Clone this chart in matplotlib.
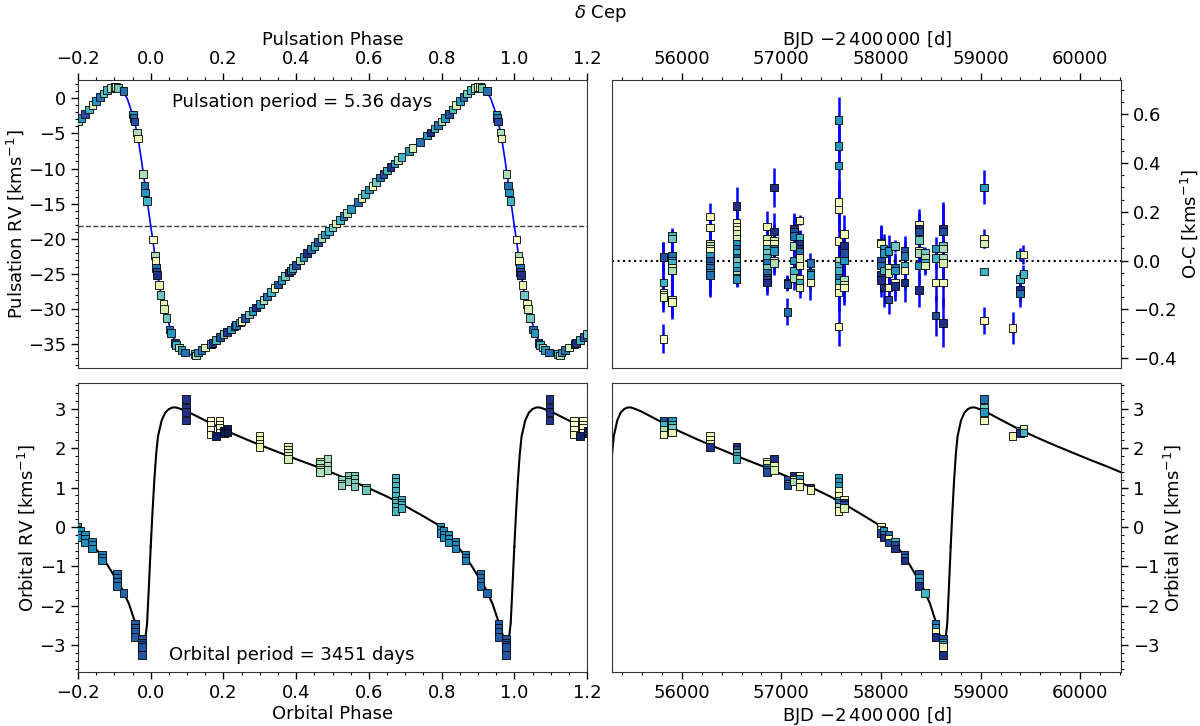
import numpy as np
import matplotlib
matplotlib.use("Agg")
from matplotlib import pyplot as plt
from matplotlib.ticker import AutoMinorLocator, MultipleLocator

# ---------------- pulsation (top left) ----------------
puls_phase = [
    0.951, 0.953, 0.955, 0.962, 0.965, 0.979, 0.983, 0.985, 0.989,
    0.006, 0.011, 0.013, 0.015, 0.016, 0.018, 0.022, 0.027, 0.035, 0.037,
    0.043, 0.052, 0.055, 0.066, 0.070, 0.078, 0.085, 0.095, 0.120, 0.125,
    0.130, 0.140, 0.150, 0.165, 0.170, 0.180, 0.190, 0.200, 0.210, 0.220,
    0.230, 0.235, 0.245, 0.250, 0.260, 0.270, 0.280, 0.290, 0.300, 0.310,
    0.320, 0.330, 0.340, 0.350, 0.360, 0.370, 0.380, 0.385, 0.390, 0.400,
    0.410, 0.420, 0.430, 0.440, 0.450, 0.460, 0.470, 0.480, 0.490, 0.500,
    0.510, 0.520, 0.530, 0.540, 0.550, 0.570, 0.580, 0.590, 0.600, 0.610,
    0.620, 0.630, 0.640, 0.650, 0.660, 0.670, 0.680, 0.690, 0.710, 0.720,
    0.740, 0.760, 0.770, 0.780, 0.790, 0.800, 0.810, 0.820, 0.830, 0.840,
    0.850, 0.860, 0.870, 0.880, 0.890, 0.900, 0.905, 0.910, 0.925,
]
puls_rv = [
    -2.3, -2.8, -3.3, -4.9, -5.7, -10.8, -12.4, -13.4, -14.6,
    -20.1, -22.4, -23.2, -24.2, -24.7, -25.2, -26.6, -28.0, -29.3, -30.0,
    -31.3, -32.9, -33.4, -34.8, -35.1, -35.5, -35.8, -36.2, -36.4, -36.6,
    -36.2, -35.8, -35.5, -35.0, -34.8, -34.4, -34.0, -33.6, -33.3, -32.9,
    -32.5, -32.3, -31.9, -31.7, -31.3, -30.8, -30.3, -29.8, -29.3, -28.7,
    -28.2, -27.6, -27.0, -26.5, -25.9, -25.3, -24.8, -24.5, -24.2, -23.7,
    -23.1, -22.6, -22.0, -21.5, -21.0, -20.5, -19.9, -19.4, -18.9, -18.4,
    -17.8, -17.3, -16.8, -16.3, -15.8, -14.8, -14.2, -13.6, -13.0, -12.5,
    -11.9, -11.3, -10.8, -10.3, -9.8, -9.3, -8.8, -8.4, -7.5, -7.1,
    -6.2, -5.3, -4.9, -4.3, -3.8, -3.3, -2.8, -2.2, -1.6, -1.0,
    -0.4, 0.2, 0.7, 1.2, 1.5, 1.6, 1.6, 1.5, 1.0,
]
puls_col = [
    0.6, 0.7, 0.8, 0.3, 0.1, 0.3, 0.7, 0.6, 0.5,
    0.05, 0.3, 0.1, 0.7, 0.8, 0.9, 0.15, 0.4, 0.1, 0.2,
    0.4, 0.7, 0.6, 0.9, 0.5, 0.3, 0.6, 0.7, 0.5, 0.3,
    0.6, 0.7, 0.2, 0.6, 0.9, 0.5, 0.8, 0.4, 0.9, 0.6,
    0.3, 0.7, 0.5, 0.1, 0.8, 0.4, 0.6, 0.9, 0.6, 0.3,
    0.7, 0.5, 0.1, 0.8, 0.6, 0.4, 0.9, 0.7, 0.5, 0.8,
    0.3, 0.6, 0.9, 0.7, 0.5, 0.8, 0.3, 0.6, 0.5, 0.4,
    0.2, 0.5, 0.7, 0.3, 0.6, 0.7, 0.2, 0.5, 0.6, 0.1,
    0.4, 0.7, 0.8, 0.5, 0.9, 0.6, 0.3, 0.5, 0.6, 0.2,
    0.7, 0.6, 0.9, 0.5, 0.7, 0.3, 0.6, 0.8, 0.5, 0.2,
    0.6, 0.7, 0.4, 0.5, 0.3, 0.1, 0.2, 0.4, 0.7,
]
puls_model_phase = [
    0.0, 0.005, 0.015, 0.025, 0.035, 0.045, 0.055, 0.065, 0.075, 0.085,
    0.095, 0.11, 0.125, 0.14, 0.16, 0.19, 0.22, 0.26, 0.30, 0.35, 0.40,
    0.45, 0.50, 0.55, 0.60, 0.65, 0.70, 0.75, 0.80, 0.84, 0.87, 0.89,
    0.90, 0.91, 0.92, 0.935, 0.945, 0.955, 0.965, 0.975, 0.985, 0.995, 1.0,
]
puls_model_rv = [
    -18.2, -19.9, -23.7, -27.1, -29.4, -31.3, -32.9, -34.3, -35.3, -35.9,
    -36.3, -36.5, -36.4, -36.0, -35.2, -34.1, -32.9, -31.2, -29.2, -26.4,
    -23.6, -21.0, -18.5, -15.8, -13.0, -10.3, -7.9, -5.7, -3.3, -1.1,
    0.6, 1.4, 1.6, 1.55, 1.2, 0.0, -1.5, -3.2, -5.6, -9.0, -12.7, -16.3,
    -18.2,
]
gamma_line = -18.2

# ---------------- O-C residuals (top right) ----------------
oc_bjd = (
    [55816] * 7 + [55900] * 9 + [56283] * 12 + [56551] * 16 + [56858] * 12
    + [56927] * 8 + [57061] * 3 + [57126] * 7 + [57184] * 10 + [57291] * 4
    + [57574] * 14 + [57628] * 7 + [58000] * 6 + [58027] * 4 + [58077] * 5
    + [58142] * 5 + [58237] * 5 + [58379] * 8 + [58440] * 4 + [58548] * 4
    + [58620] * 8 + [59034] * 5 + [59321] * 1 + [59398] * 4 + [59429] * 2
)
oc_val = [
    0.012, 0.015, -0.09, -0.13, -0.14, -0.15, -0.32,
    0.10, 0.09, 0.02, 0.0, -0.01, -0.03, -0.04, -0.16, -0.17,
    0.18, 0.135, 0.07, 0.06, 0.05, 0.04, 0.02, 0.0, -0.02, -0.03, -0.05, -0.06,
    0.225, 0.155, 0.14, 0.125, 0.11, 0.09, 0.07, 0.05, 0.03, 0.01, 0.0, -0.02,
    -0.04, -0.06, -0.07, -0.075,
    0.14, 0.09, 0.07, 0.05, 0.03, 0.01, -0.01, -0.03, -0.05, -0.07, -0.08, -0.09,
    0.30, 0.12, 0.08, 0.07, 0.05, 0.04, 0.0, -0.01,
    -0.09, -0.095, -0.21,
    0.13, 0.12, 0.10, 0.06, 0.0, -0.04, -0.07,
    0.165, 0.095, 0.07, 0.05, 0.035, 0.01, -0.02, -0.075, -0.09, -0.11,
    -0.01, -0.05, -0.06, -0.09,
    0.575, 0.47, 0.39, 0.24, 0.21, 0.08, 0.0, -0.02, -0.04, -0.07, -0.09,
    -0.11, -0.13, -0.27,
    0.11, 0.06, 0.03, 0.0, -0.08, -0.10, -0.11,
    0.075, 0.07, 0.0, -0.02, -0.06, -0.08,
    0.05, 0.03, -0.04, -0.11,
    0.04, -0.03, -0.05, -0.11, -0.16,
    0.06, -0.03, -0.04, -0.09, -0.105,
    0.04, 0.02, -0.02, -0.04, -0.09,
    0.145, 0.13, 0.12, 0.085, 0.04, 0.03, -0.02, -0.12,
    0.03, 0.01, -0.01, -0.02,
    0.05, 0.01, -0.09, -0.225,
    0.13, 0.12, 0.06, 0.05, 0.01, -0.01, -0.09, -0.255,
    0.30, 0.09, 0.07, -0.045, -0.245,
    -0.275,
    0.025, -0.075, -0.12, -0.135,
    0.025, -0.055,
]
oc_err = [
    0.065, 0.06, 0.07, 0.07, 0.06, 0.06, 0.06,
    0.035, 0.035, 0.07, 0.07, 0.07, 0.07, 0.07, 0.07, 0.07,
    0.055, 0.06, 0.06, 0.06, 0.06, 0.06, 0.07, 0.07, 0.08, 0.08, 0.09, 0.09,
    0.075, 0.07, 0.07, 0.07, 0.07, 0.07, 0.06, 0.06, 0.06, 0.05, 0.05, 0.05,
    0.04, 0.04, 0.035, 0.035,
    0.065, 0.065, 0.06, 0.06, 0.06, 0.06, 0.05, 0.05, 0.05, 0.05, 0.05, 0.05,
    0.08, 0.075, 0.07, 0.07, 0.06, 0.06, 0.05, 0.05,
    0.03, 0.03, 0.055,
    0.065, 0.065, 0.06, 0.06, 0.05, 0.05, 0.05,
    0.02, 0.03, 0.05, 0.05, 0.05, 0.05, 0.05, 0.045, 0.045, 0.045,
    0.04, 0.05, 0.06, 0.07,
    0.095, 0.09, 0.09, 0.09, 0.09, 0.09, 0.09, 0.09, 0.09, 0.08, 0.08,
    0.08, 0.08, 0.08,
    0.075, 0.07, 0.07, 0.07, 0.07, 0.07, 0.07,
    0.07, 0.07, 0.07, 0.07, 0.07, 0.07,
    0.06, 0.06, 0.08, 0.08,
    0.065, 0.06, 0.06, 0.06, 0.06,
    0.025, 0.06, 0.06, 0.06, 0.06,
    0.06, 0.06, 0.07, 0.08, 0.08,
    0.065, 0.065, 0.065, 0.07, 0.07, 0.07, 0.07, 0.07,
    0.025, 0.025, 0.04, 0.04,
    0.045, 0.045, 0.08, 0.085,
    0.11, 0.11, 0.1, 0.1, 0.1, 0.1, 0.1, 0.1,
    0.07, 0.04, 0.02, 0.015, 0.055,
    0.065,
    0.025, 0.03, 0.05, 0.055,
    0.04, 0.035,
]
oc_col = [
    0.9, 0.8, 0.5, 0.2, 0.1, 0.15, 0.05,
    0.5, 0.4, 0.7, 0.6, 0.5, 0.2, 0.3, 0.15, 0.1,
    0.1, 0.1, 0.2, 0.3, 0.1, 0.1, 0.6, 0.8, 0.7, 0.7, 0.6, 0.7,
    0.9, 0.15, 0.1, 0.15, 0.2, 0.2, 0.6, 0.7, 0.5, 0.8, 0.4, 0.5,
    0.6, 0.3, 0.5, 0.6,
    0.1, 0.2, 0.1, 0.5, 0.4, 0.5, 0.7, 0.4, 0.7, 0.8, 0.8, 0.9,
    0.9, 0.9, 0.2, 0.15, 0.7, 0.6, 0.1, 0.3,
    0.7, 0.8, 0.7,
    0.9, 0.8, 0.7, 0.3, 0.6, 0.5, 0.3,
    0.1, 0.5, 0.9, 0.9, 0.7, 0.2, 0.1, 0.15, 0.5, 0.15,
    0.7, 0.7, 0.6, 0.1,
    0.6, 0.6, 0.6, 0.1, 0.1, 0.1, 0.3, 0.5, 0.5, 0.7, 0.5,
    0.1, 0.1, 0.1,
    0.1, 0.9, 0.8, 0.6, 0.3, 0.2, 0.1,
    0.15, 0.1, 0.8, 0.7, 0.9, 0.9,
    0.6, 0.6, 0.5, 0.9,
    0.6, 0.1, 0.2, 0.1, 0.8,
    0.4, 0.7, 0.6, 0.1, 0.9,
    0.8, 0.7, 0.5, 0.1, 0.9,
    0.1, 0.9, 0.8, 0.4, 0.2, 0.3, 0.6, 0.9,
    0.4, 0.3, 0.5, 0.2,
    0.6, 0.5, 0.1, 0.8,
    0.9, 0.8, 0.4, 0.3, 0.3, 0.2, 0.1, 0.9,
    0.6, 0.1, 0.2, 0.5, 0.1,
    0.1,
    0.5, 0.5, 0.9, 0.7,
    0.1, 0.5,
]

# ---------------- orbit (bottom) ----------------
orb_period = 3451.0
orb_t0 = 58700.0
orb_bjd = (
    [55816] * 4 + [55900] * 4 + [56283] * 4 + [56551] * 5 + [56858] * 5
    + [56927] * 3 + [57061] * 3 + [57126] * 3 + [57184] * 4 + [57291] * 2
    + [57574] * 9 + [57628] * 4 + [58000] * 3 + [58027] * 3 + [58077] * 3
    + [58142] * 3 + [58237] * 3 + [58379] * 4 + [58440] * 1 + [58548] * 4
    + [58620] * 5 + [59034] * 4 + [59321] * 1 + [59398] * 2 + [59429] * 2
)
orb_rv = [
    2.69, 2.59, 2.47, 2.34,
    2.68, 2.59, 2.51, 2.40,
    2.30, 2.20, 2.12, 2.03,
    2.03, 1.95, 1.87, 1.80, 1.72,
    1.65, 1.60, 1.50, 1.45, 1.40,
    1.73, 1.55, 1.45,
    1.20, 1.10, 1.05,
    1.30, 1.20, 1.15,
    1.30, 1.22, 1.12, 1.03,
    1.00, 0.93,
    1.25, 1.15, 1.05, 0.92, 0.80, 0.65, 0.60, 0.50, 0.40,
    0.70, 0.60, 0.55, 0.48,
    0.0, -0.08, -0.15,
    -0.10, -0.20, -0.27,
    -0.20, -0.30, -0.40,
    -0.37, -0.45, -0.55,
    -0.70, -0.78, -0.85,
    -1.20, -1.30, -1.40, -1.50,
    -1.68,
    -2.45, -2.55, -2.65, -2.80,
    -2.85, -2.95, -3.00, -3.05, -3.25,
    3.25, 3.02, 2.92, 2.70,
    2.30,
    2.45, 2.38,
    2.48, 2.40,
]
orb_col = [
    0.8, 0.5, 0.3, 0.1,
    0.6, 0.5, 0.4, 0.1,
    0.1, 0.1, 0.2, 0.9,
    0.9, 0.8, 0.4, 0.6, 0.5,
    0.1, 0.2, 0.6, 0.7, 0.8,
    0.9, 0.15, 0.2,
    0.8, 0.7, 0.8,
    0.9, 0.2, 0.3,
    0.1, 0.6, 0.1, 0.1,
    0.9, 0.1,
    0.6, 0.6, 0.6, 0.1, 0.1, 0.5, 0.7, 0.3, 0.1,
    0.15, 0.9, 0.8, 0.2,
    0.1, 0.2, 0.8,
    0.6, 0.7, 0.9,
    0.7, 0.1, 0.8,
    0.5, 0.8, 0.9,
    0.8, 0.7, 0.9,
    0.8, 0.6, 0.6, 0.9,
    0.5,
    0.7, 0.6, 0.1, 0.9,
    0.8, 0.6, 0.5, 0.1, 0.9,
    0.7, 0.4, 0.6, 0.1,
    0.1,
    0.6, 0.9,
    0.2, 0.5,
]
orb_model_phase = [
    0.0, 0.005, 0.01, 0.015, 0.02, 0.03, 0.04, 0.05, 0.06, 0.07, 0.08,
    0.10, 0.15, 0.20, 0.25, 0.30, 0.35, 0.40, 0.45, 0.50, 0.55, 0.60,
    0.65, 0.70, 0.75, 0.80, 0.82, 0.84, 0.86, 0.88, 0.90, 0.92, 0.94,
    0.96, 0.97, 0.975, 0.98, 0.985, 0.99, 0.995, 1.0,
]
orb_model_rv = [
    -0.5, 0.4, 1.2, 1.85, 2.3, 2.7, 2.9, 2.99, 3.03, 3.03, 3.0,
    2.93, 2.70, 2.47, 2.27, 2.08, 1.90, 1.72, 1.55, 1.37, 1.18, 0.98,
    0.77, 0.53, 0.27, 0.0, -0.2, -0.45, -0.68, -0.95, -1.25, -1.55, -1.95,
    -2.5, -2.8, -2.93, -2.96, -2.85, -2.45, -1.5, -0.5,
]

# ---------------- figure ----------------
plt.rcParams["font.size"] = 13
fig = plt.figure(figsize=(12, 7.26), dpi=100)
ax_pp = fig.add_axes([0.065, 0.4931, 0.4242, 0.3967])
ax_oc = fig.add_axes([0.51, 0.4931, 0.4242, 0.3967])
ax_op = fig.add_axes([0.065, 0.0744, 0.4242, 0.3980])
ax_ot = fig.add_axes([0.51, 0.0744, 0.4242, 0.3980])

mk = dict(marker="s", s=30, edgecolors="black", linewidths=0.6, cmap="YlGnBu", zorder=3)

# pulsation phase diagram
pm_phase = np.array(puls_model_phase)
pp = np.array(puls_phase)
for shift in (-1, 0, 1):
    ax_pp.plot(pm_phase + shift, puls_model_rv, color="blue", lw=1.2, zorder=2)
ax_pp.axhline(gamma_line, color="0.25", ls="--", lw=1.0, zorder=1)
for shift in (-1, 0, 1):
    ax_pp.scatter(pp + shift, puls_rv, c=puls_col, vmin=0, vmax=1, **mk)
ax_pp.set_xlim(-0.2, 1.2)
ax_pp.set_ylim(-38.4, 2.6)
ax_pp.xaxis.set_major_locator(MultipleLocator(0.2))
ax_pp.yaxis.set_major_locator(MultipleLocator(5))
ax_pp.xaxis.tick_top()
ax_pp.xaxis.set_label_position("top")
ax_pp.set_xlabel("Pulsation Phase", labelpad=4)
ax_pp.set_ylabel(r"Pulsation RV [kms$^{-1}$]", labelpad=1.5)
ax_pp.text(0.44, 0.925, "Pulsation period = 5.36 days", transform=ax_pp.transAxes,
           ha="center", va="center")

# O-C vs time
ax_oc.errorbar(oc_bjd, oc_val, yerr=oc_err, fmt="none", ecolor="blue",
               elinewidth=1.8, zorder=1)
ax_oc.axhline(0.0, color="black", ls=":", lw=1.5, zorder=2)
ax_oc.scatter(oc_bjd, oc_val, c=oc_col, vmin=0, vmax=1, **mk)
ax_oc.set_xlim(55300, 60410)
ax_oc.set_ylim(-0.44, 0.74)
ax_oc.xaxis.set_major_locator(MultipleLocator(1000))
ax_oc.yaxis.set_major_locator(MultipleLocator(0.2))
ax_oc.ticklabel_format(useOffset=False, style="plain")
ax_oc.xaxis.tick_top()
ax_oc.xaxis.set_label_position("top")
ax_oc.yaxis.tick_right()
ax_oc.yaxis.set_label_position("right")
ax_oc.set_xlabel(r"BJD $-2\,400\,000$ [d]", labelpad=4)
ax_oc.set_ylabel(r"O-C [kms$^{-1}$]", labelpad=1.5)

# orbital phase diagram (colour = time of observation)
om_phase = np.array(orb_model_phase)
ob = np.array(orb_bjd, dtype=float)
ob_phase = ((ob - orb_t0) / orb_period) % 1.0
for shift in (-1, 0, 1):
    ax_op.plot(om_phase + shift, orb_model_rv, color="black", lw=1.5, zorder=2)
    ax_op.scatter(ob_phase + shift, orb_rv, c=ob, vmin=55800, vmax=59430, **mk)
ax_op.set_xlim(-0.2, 1.2)
ax_op.set_ylim(-3.68, 3.65)
ax_op.xaxis.set_major_locator(MultipleLocator(0.2))
ax_op.set_xlabel("Orbital Phase", labelpad=2.5)
ax_op.set_ylabel(r"Orbital RV [kms$^{-1}$]", labelpad=1.5)
ax_op.text(0.42, 0.06, "Orbital period = 3451 days", transform=ax_op.transAxes,
           ha="center", va="center")

# orbital RV vs time
for cycle in (-1, 0, 1):
    ax_ot.plot(orb_t0 + (om_phase + cycle) * orb_period, orb_model_rv,
               color="black", lw=1.5, zorder=2)
ax_ot.scatter(ob, orb_rv, c=orb_col, vmin=0, vmax=1, **mk)
ax_ot.set_xlim(55300, 60410)
ax_ot.set_ylim(-3.68, 3.65)
ax_ot.xaxis.set_major_locator(MultipleLocator(1000))
ax_ot.ticklabel_format(useOffset=False, style="plain")
ax_ot.yaxis.tick_right()
ax_ot.yaxis.set_label_position("right")
ax_ot.set_xlabel(r"BJD $-2\,400\,000$ [d]", labelpad=2.5)
ax_ot.set_ylabel(r"Orbital RV [kms$^{-1}$]", labelpad=1.5)

for ax in (ax_pp, ax_oc, ax_op, ax_ot):
    ax.xaxis.set_minor_locator(AutoMinorLocator())
    ax.yaxis.set_minor_locator(AutoMinorLocator())
    ax.tick_params(which="major", length=5, width=1, labelsize=13)
    ax.tick_params(which="minor", length=2.5, width=0.8)
    for sp in ax.spines.values():
        sp.set_color("0.2")

fig.text(0.5, 0.982, r"$\delta$ Cep", ha="center", va="center", fontsize=13)

fig.savefig("out.png", dpi=100)
